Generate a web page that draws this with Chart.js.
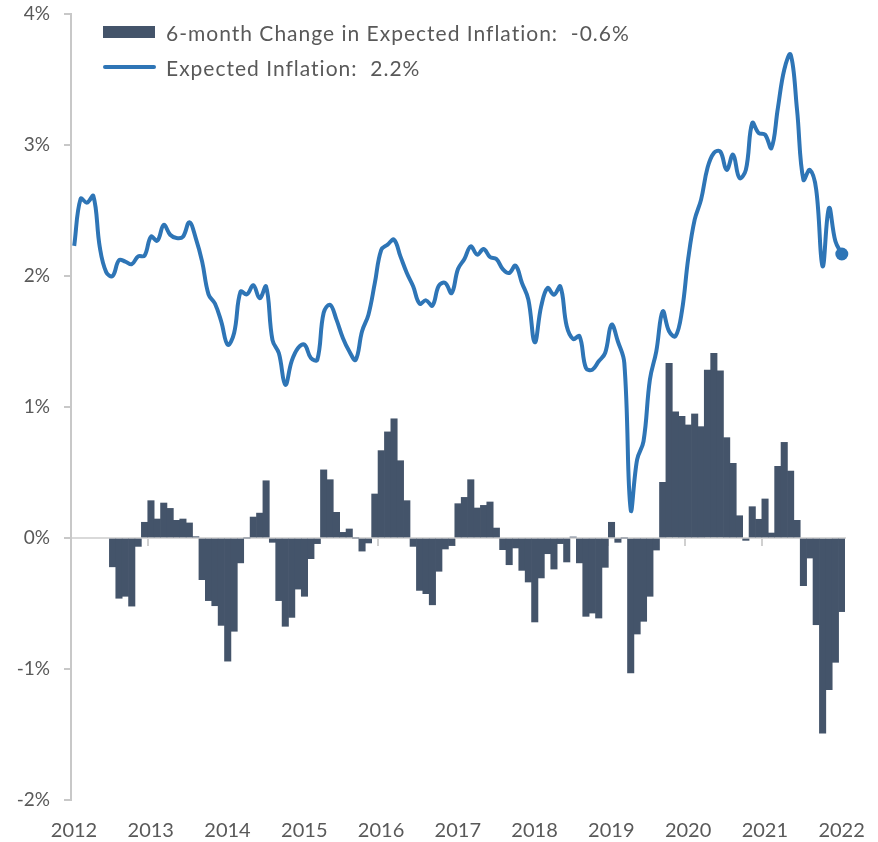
<!DOCTYPE html>
<html>
<head>
<meta charset="utf-8">
<script src="https://cdn.jsdelivr.net/npm/chart.js@4.4.1/dist/chart.umd.min.js"></script>
<style>
  body { margin: 0; background: #fff; }
  #wrap { position: relative; width: 878px; height: 842px; }
  .legend-row { position: absolute; left: 103px; height: 24px; display: flex; align-items: center;
    font-family: Lato, "DejaVu Sans", sans-serif; font-size: 21px; letter-spacing: 1px; color: #595959; white-space: pre; }
  .swatch-bar { width: 52px; height: 12px; background: #44546A; margin-right: 11px; }
  .swatch-line { width: 53px; height: 4px; border-radius: 2px; background: #2E75B6; margin-right: 10px; }
</style>
</head>
<body>
<div id="wrap">
  <canvas id="chart" width="878" height="842"></canvas>
  <div class="legend-row" style="top:20px"><span class="swatch-bar"></span><span id="lbl-change"></span></div>
  <div class="legend-row" style="top:55px"><span class="swatch-line"></span><span id="lbl-infl"></span></div>
</div>
<script>
// monthly, Jan 2012 .. Jan 2022
const startYear = 2012;
const yearTicks = [2012, 2013, 2014, 2015, 2016, 2017, 2018, 2019, 2020, 2021, 2022];
const percentTicks = [-2, -1, 0, 1, 2, 3, 4];

// Expected inflation (%)
const inflation = [
  2.23, 2.59, 2.56, 2.61, 2.22, 2.03, 2.00, 2.12, 2.11, 2.09, 2.15, 2.155,
  2.30, 2.27, 2.39, 2.315, 2.29, 2.30, 2.41, 2.29, 2.11, 1.86, 1.79, 1.65,
  1.475, 1.565, 1.88, 1.86, 1.93, 1.83, 1.92, 1.51, 1.41, 1.17, 1.35, 1.45,
  1.476, 1.374, 1.36, 1.72, 1.78, 1.667, 1.527, 1.425, 1.36, 1.578, 1.705, 1.947,
  2.20, 2.24, 2.277, 2.15, 2.023, 1.92, 1.789, 1.814, 1.774, 1.926, 1.947, 1.87,
  2.053, 2.13, 2.226, 2.163, 2.206, 2.145, 2.13, 2.053, 2.023, 2.079, 1.947, 1.82,
  1.494, 1.768, 1.908, 1.857, 1.92, 1.616, 1.519, 1.54, 1.298, 1.285, 1.349, 1.412,
  1.628, 1.50, 1.336, 0.216, 0.598, 0.738, 1.209, 1.425, 1.73, 1.578, 1.54, 1.73,
  2.137, 2.43, 2.583, 2.824, 2.939, 2.95, 2.81, 2.926, 2.748, 2.81, 3.168, 3.092,
  3.079, 2.977, 3.28, 3.575, 3.69, 3.27, 2.735, 2.81, 2.659, 2.074, 2.519, 2.265,
  2.168
];

// 6-month change in expected inflation (%)
const change6m = [
  null, null, null, null, null, null, -0.22, -0.46, -0.445, -0.52, -0.064, 0.12,
  0.285, 0.145, 0.267, 0.226, 0.135, 0.145, 0.115, 0.01, -0.318, -0.478, -0.517, -0.667,
  -0.94, -0.712, -0.19, 0.0, 0.16, 0.19, 0.437, -0.033, -0.478, -0.674, -0.606, -0.39,
  -0.445, -0.158, -0.043, 0.52, 0.445, 0.196, 0.043, 0.069, 0.0, -0.10, -0.038, 0.336,
  0.667, 0.81, 0.91, 0.59, 0.285, -0.064, -0.40, -0.425, -0.51, -0.254, -0.084, -0.058,
  0.262, 0.31, 0.445, 0.229, 0.249, 0.275, 0.076, -0.089, -0.204, -0.076, -0.247, -0.336,
  -0.641, -0.305, -0.12, -0.237, -0.043, -0.183, 0.008, -0.19, -0.598, -0.573, -0.611, -0.224,
  0.12, -0.033, 0.0, -1.03, -0.733, -0.636, -0.445, -0.092, 0.425, 1.333, 0.964, 0.929,
  0.863, 0.947, 0.85, 1.282, 1.41, 1.277, 0.766, 0.57, 0.17, -0.018, 0.239, 0.143,
  0.298, 0.038, 0.547, 0.73, 0.511, 0.135, -0.364, -0.153, -0.662, -1.49, -1.158, -0.949,
  -0.562
];

const textColor = '#595959';
const axisColor = '#c8c8c8';
const fontFamily = 'Lato, "DejaVu Sans", sans-serif';

// mid-month position in fractional years
const monthX = inflation.map((_, i) => startYear + (i + 0.5) / 12);
const xMax = startYear + inflation.length / 12;
const lastIdx = inflation.length - 1;

document.getElementById('lbl-change').textContent =
  '6-month Change in Expected Inflation:  ' + change6m[lastIdx].toFixed(1) + '%';
document.getElementById('lbl-infl').textContent =
  'Expected Inflation:  ' + inflation[lastIdx].toFixed(1) + '%';

// keep axis labels from pushing the plot area around
const noPad = s => { s.paddingLeft = 0; s.paddingRight = 0; s.paddingTop = 0; s.paddingBottom = 0; };

new Chart(document.getElementById('chart'), {
  data: {
    datasets: [
      {
        type: 'line',
        label: 'Expected Inflation',
        data: monthX.map((x, i) => ({ x: x, y: inflation[i] })),
        borderColor: '#2E75B6',
        backgroundColor: '#2E75B6',
        borderWidth: 4,
        tension: 0.4,
        pointRadius: ctx => (ctx.dataIndex === lastIdx ? 6.5 : 0),
        pointBorderWidth: 0,
        clip: false,
        order: 0
      },
      {
        type: 'bar',
        label: '6-month Change in Expected Inflation',
        data: monthX.map((x, i) => ({ x: x, y: change6m[i] })),
        backgroundColor: '#44546A',
        borderWidth: 0,
        barPercentage: 1,
        categoryPercentage: 1,
        order: 1
      }
    ]
  },
  options: {
    responsive: false,
    animation: false,
    layout: { padding: { top: 14, right: 33, left: 0, bottom: 0 } },
    plugins: { legend: { display: false }, tooltip: { enabled: false } },
    scales: {
      x: {
        type: 'linear',
        position: 'bottom',
        min: startYear,
        max: xMax,
        offset: false,
        afterBuildTicks: s => { s.ticks = yearTicks.map(v => ({ value: v })); },
        afterFit: s => { s.height = 42; noPad(s); },
        grid: { display: false, drawTicks: false, offset: false },
        border: { display: false },
        ticks: {
          color: textColor,
          font: { family: fontFamily, size: 20 },
          padding: 19,
          labelOffset: 3,
          autoSkip: false,
          maxRotation: 0,
          callback: v => String(v)
        }
      },
      x2: {
        type: 'linear',
        position: { y: 0 },
        min: startYear,
        max: xMax,
        offset: false,
        z: 1,
        afterBuildTicks: s => { s.ticks = yearTicks.slice(1).map(v => ({ value: v })); },
        afterFit: noPad,
        grid: { drawOnChartArea: false, drawTicks: true, tickLength: 7, color: '#d0d0d0', lineWidth: 2 },
        border: { display: true, color: '#d9d9d9', width: 2 },
        ticks: { display: false }
      },
      y: {
        type: 'linear',
        min: -2,
        max: 4,
        afterBuildTicks: s => { s.ticks = percentTicks.map(v => ({ value: v })); },
        afterFit: s => { s.width = 71; noPad(s); },
        grid: { drawOnChartArea: false, drawTicks: true, tickLength: 7, color: axisColor, lineWidth: 2 },
        border: { display: true, color: axisColor, width: 2 },
        ticks: {
          color: textColor,
          font: { family: fontFamily, size: 19 },
          padding: 14,
          callback: v => v + '%'
        }
      }
    }
  }
});
</script>
</body>
</html>
